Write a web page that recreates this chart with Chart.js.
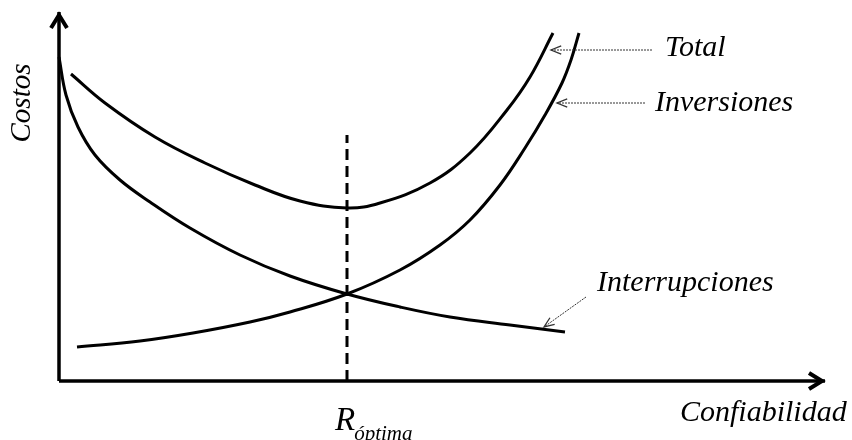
<!DOCTYPE html>
<html>
<head>
<meta charset="utf-8">
<script src="https://cdn.jsdelivr.net/npm/chart.js@4/dist/chart.umd.min.js"></script>
<style>
  html, body { margin: 0; padding: 0; background: #fff; }
  #wrap { width: 852px; height: 440px; position: relative; }
</style>
</head>
<body>
<div id="wrap"><canvas id="c" width="852" height="440"></canvas></div>
<script>
// Conceptual curves (confiabilidad on x, costos on y)
const interrupcionesX = [0, 7, 19, 36, 61, 91, 131, 181, 231, 288, 341, 391, 451, 506];
const interrupcionesY = [324, 286, 254, 226, 201, 179, 153, 126, 105, 87, 74, 64, 56, 49];

const totalX = [12, 46, 96, 146, 196, 241, 288, 321, 371, 411, 448, 471, 494];
const totalY = [307, 278, 244, 218, 196, 180, 173, 178, 198, 228, 271, 304, 348];

const inversionesX = [18, 81, 134, 191, 231, 288, 341, 381, 411, 441, 466, 486, 503, 512, 520];
const inversionesY = [34, 40, 48, 59, 69, 87, 111, 136, 161, 196, 233, 266, 298, 321, 348];

const rOptima = 288;          // x of the optimum reliability
const rOptimaTop = 246;       // top of dashed marker
const xAxisEnd = 766;
const yAxisEnd = 369;

const labels = ['Total', 'Inversiones', 'Interrupciones'];

const pts = (xs, ys) => xs.map((x, i) => ({ x, y: ys[i] }));

const curve = (data) => ({
  data, showLine: true, borderColor: '#000', borderWidth: 3, pointRadius: 0,
  tension: 0.4, fill: false, borderCapStyle: 'butt'
});

// annotation layout (label positions and pointer lines)
const annotations = [
  { text: labels[0], at: { x: 606, y: 333 }, from: { x: 593, y: 331 }, to: { x: 492, y: 331 } },
  { text: labels[1], at: { x: 596, y: 278 }, from: { x: 586, y: 278 }, to: { x: 498, y: 278 } },
  { text: labels[2], at: { x: 538, y: 98 },  from: { x: 527, y: 84 },  to: { x: 485, y: 54 } }
];

const FAM = '"Liberation Serif", "DejaVu Serif", serif';
const FONT = 'italic 30px ' + FAM;

const deco = {
  id: 'deco',
  afterDatasetsDraw(chart) {
    const ctx = chart.ctx;
    const xs = chart.scales.x, ys = chart.scales.y;
    const P = (p) => ({ x: xs.getPixelForValue(p.x), y: ys.getPixelForValue(p.y) });
    ctx.save();
    // axis arrowheads
    ctx.strokeStyle = '#000';
    ctx.lineWidth = 4;
    ctx.lineJoin = 'miter';
    ctx.lineCap = 'butt';
    const yt = P({ x: 0, y: yAxisEnd });
    ctx.beginPath();
    ctx.moveTo(yt.x - 8, yt.y + 16); ctx.lineTo(yt.x, yt.y + 3); ctx.lineTo(yt.x + 8, yt.y + 16);
    ctx.stroke();
    const xt = P({ x: xAxisEnd, y: 0 });
    ctx.beginPath();
    ctx.moveTo(xt.x - 16, xt.y - 8); ctx.lineTo(xt.x - 3, xt.y); ctx.lineTo(xt.x - 16, xt.y + 8);
    ctx.stroke();

    // annotation pointers
    ctx.lineWidth = 1;
    ctx.strokeStyle = '#333';
    annotations.forEach(a => {
      const f = P(a.from), t = P(a.to);
      ctx.setLineDash([2, 1]);
      ctx.beginPath(); ctx.moveTo(f.x, f.y); ctx.lineTo(t.x, t.y); ctx.stroke();
      ctx.setLineDash([]);
      const ang = Math.atan2(t.y - f.y, t.x - f.x);
      const L = 11, W = 0.38;
      ctx.lineWidth = 1.3;
      ctx.beginPath();
      ctx.moveTo(t.x - L * Math.cos(ang - W), t.y - L * Math.sin(ang - W));
      ctx.lineTo(t.x, t.y);
      ctx.lineTo(t.x - L * Math.cos(ang + W), t.y - L * Math.sin(ang + W));
      ctx.stroke();
      ctx.lineWidth = 1;
      const tp = P(a.at);
      ctx.fillStyle = '#000';
      ctx.font = FONT;
      ctx.textBaseline = 'middle';
      ctx.textAlign = 'left';
      ctx.fillText(a.text, tp.x, tp.y);
    });

    // axis titles
    ctx.fillStyle = '#000';
    ctx.font = FONT;
    ctx.textBaseline = 'middle';
    const cf = P({ x: 621, y: -32 });
    ctx.textAlign = 'left';
    ctx.fillText('Confiabilidad', cf.x, cf.y);

    const r = P({ x: 276, y: -49 });
    ctx.textBaseline = 'alphabetic';
    ctx.font = 'italic 33px ' + FAM;
    ctx.fillText('R', r.x, r.y);
    const rw = ctx.measureText('R').width;
    ctx.font = 'italic 21px ' + FAM;
    ctx.fillText('óptima', r.x + rw - 1, r.y + 10);

    const c = P({ x: -37, y: 278 });
    ctx.save();
    ctx.translate(c.x, c.y);
    ctx.rotate(-Math.PI / 2);
    ctx.font = 'italic 29px ' + FAM;
    ctx.textAlign = 'center';
    ctx.textBaseline = 'middle';
    ctx.fillText('Costos', 0, 0);
    ctx.restore();

    ctx.restore();
  }
};

new Chart(document.getElementById('c'), {
  type: 'scatter',
  data: {
    datasets: [
      curve(pts(interrupcionesX, interrupcionesY)),
      curve(pts(totalX, totalY)),
      curve(pts(inversionesX, inversionesY)),
      { data: [{ x: rOptima, y: 0 }, { x: rOptima, y: rOptimaTop }], showLine: true,
        borderColor: '#000', borderWidth: 3, borderDash: [11, 6], pointRadius: 0 },
      { data: [{ x: 0, y: 0 }, { x: 0, y: yAxisEnd }], showLine: true,
        borderColor: '#000', borderWidth: 3.5, pointRadius: 0 },
      { data: [{ x: 0, y: 0 }, { x: xAxisEnd, y: 0 }], showLine: true,
        borderColor: '#000', borderWidth: 3.5, pointRadius: 0 }
    ]
  },
  options: {
    responsive: false,
    animation: false,
    layout: { padding: 0 },
    plugins: { legend: { display: false }, tooltip: { enabled: false } },
    scales: {
      x: { type: 'linear', min: -59, max: 793, display: false },
      y: { type: 'linear', min: -59, max: 381, display: false }
    }
  },
  plugins: [deco]
});
</script>
</body>
</html>
